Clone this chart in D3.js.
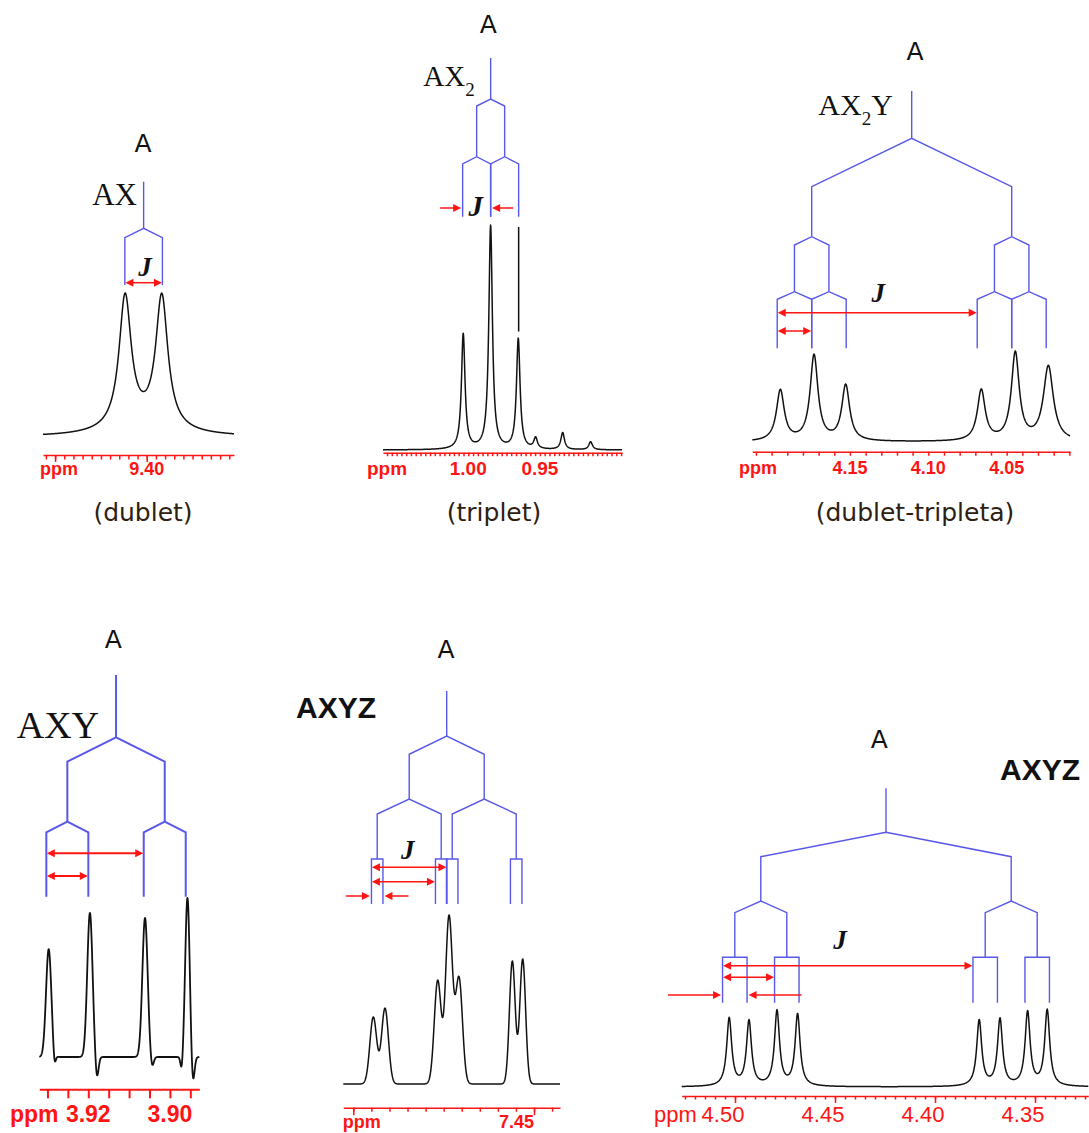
<!DOCTYPE html>
<html><head><meta charset="utf-8">
<script src="https://cdn.jsdelivr.net/npm/d3@7"></script>
<style>body{margin:0;background:#fff}svg{display:block}</style>
</head><body>
<svg id="c" width="1089" height="1133"></svg>
<script>
// ---------------- DATA ----------------
// Panel 1: doublet (AX)
const dubletPpm   = [9.4118, 9.3918, 9.4020];
const dubletInt   = [100, 100, 7];
const dubletWidth = [0.0040, 0.0040, 0.02];
const dubletCenter = 9.4017;
const dubletJ = [0.0205];
const dubletTickLabels = ["9.40"];

// Panel 2: triplet (AX2)
const tripletPpm   = [1.0035, 0.9844, 0.9651, 0.9530, 0.9341, 0.9146];
const tripletInt   = [116, 225, 111, 11, 17, 8];
const tripletWidth = [0.0015, 0.0015, 0.0015, 0.0015, 0.0015, 0.0015];
const tripletCenter = 0.98437;
const tripletJ = [0.01954, 0.01954];
const tripletTickLabels = ["1.00", "0.95"];

// Panel 3: doublet of triplets (AX2Y)
const dtPpm   = [4.1944, 4.1729, 4.1527, 4.0662, 4.0445, 4.0234];
const dtInt   = [51, 86, 56, 51, 88, 75];
const dtWidth = [0.003, 0.003, 0.003, 0.003, 0.003, 0.0038];
const dtCenter = 4.1106;
const dtJ = [0.1276, 0.022, 0.022];
const dtTickLabels = ["4.15", "4.10", "4.05"];

// Panel 4: AXY (doublet of doublets)
const axyPpm   = [3.9297, 3.9196, 3.9061, 3.8957, 3.9283, 3.9179, 3.9044, 3.8971, 3.8944];
const axyInt   = [107, 143, 138, 158, -12, -22, -11, -14, -28];
const axyWidth = [0.00065, 0.00065, 0.00065, 0.00055, 0.0003, 0.0004, 0.0004, 0.0003, 0.0004];
const axyCenter = 3.9132;
const axyJ = [0.02386, 0.01029];
const axyTickLabels = ["3.92", "3.90"];

// Panel 5: AXYZ (7.45 ppm)
const axyz1Ppm   = [7.49447, 7.49123, 7.47665, 7.47352, 7.47075, 7.45600, 7.45313];
const axyz1Int   = [68, 77, 105, 170, 107, 125, 127];
const axyz1Width = [0.00095, 0.00095, 0.00095, 0.00095, 0.00095, 0.0008, 0.0008];
const axyz1Center = 7.47416;
const axyz1J = [0.02075, 0.01771, 0.00318];
const axyz1TickLabels = ["7.45"];

// Panel 6: AXYZ (4.4 ppm)
const axyz2Ppm   = [4.5029, 4.4930, 4.4790, 4.4687, 4.3779, 4.3675, 4.3537, 4.3439];
const axyz2Int   = [68, 65, 75, 72, 66, 67, 74, 76];
const axyz2Width = [0.0015, 0.0015, 0.0015, 0.0015, 0.0015, 0.0015, 0.0015, 0.0015];
const axyz2Center = 4.4245;
const axyz2J = [0.1252, 0.026, 0.01225];
const axyz2TickLabels = ["4.50", "4.45", "4.40", "4.35"];

// ---------------- STYLE ----------------
const BLUE = "#5858e8", RED = "#ff1414", INK = "#111";
const svg = d3.select("#c");
svg.append("rect").attr("width", 1089).attr("height", 1133).attr("fill", "#fff");

function arrowHead(g, tipX, y, dir) {
  const L = 8, h = 4;
  g.append("path")
    .attr("d", `M${tipX},${y}L${tipX - dir * L},${y - h}L${tipX - dir * L},${y + h}Z`)
    .attr("fill", RED);
}

function drawPanel(cfg) {
  const g = svg.append("g");
  const x = d3.scaleLinear().domain(cfg.domain).range(cfg.range);

  // ---- spectrum ----
  const peaks = cfg.ppm.map((p, i) => ({ p, h: cfg.int[i], w: cfg.wid[i] }));
  const f = v => d3.sum(peaks, k => cfg.shape === "g"
      ? k.h * Math.exp(-((v - k.p) ** 2) / (2 * k.w * k.w))
      : k.h * k.w * k.w / ((v - k.p) ** 2 + k.w * k.w));
  const n = 900;
  const samples = d3.range(n + 1).map(i => {
    const v = cfg.domain[0] + (cfg.domain[1] - cfg.domain[0]) * i / n;
    return { ppm: v, val: f(v) };
  });
  const ymax = d3.max(samples, d => d.val);
  const y = d3.scaleLinear().domain([0, ymax]).range([cfg.base, cfg.top]);
  g.append("path")
    .attr("d", d3.line().x(d => x(d.ppm)).y(d => y(d.val))(samples))
    .attr("fill", "none").attr("stroke", INK).attr("stroke-width", cfg.specW || 1.5)
    .attr("stroke-linejoin", "round");

  // ---- axis ----
  const ax = g.append("g").attr("transform", `translate(0,${cfg.axisY})`);
  const lo = Math.min(...cfg.domain), hi = Math.max(...cfg.domain);
  const step = cfg.minorStep;
  const minorVals = d3.range(Math.ceil(lo / step - 1e-9), Math.floor(hi / step + 1e-9) + 1).map(i => i * step);
  ax.append("g").call(d3.axisBottom(x).tickValues(minorVals).tickSize(cfg.minorSize).tickSizeOuter(0).tickFormat(""));
  if (cfg.majorStep) {
    const ms = cfg.majorStep;
    const majorVals = d3.range(Math.ceil(lo / ms - 1e-9), Math.floor(hi / ms + 1e-9) + 1).map(i => i * ms);
    const mg = ax.append("g").call(d3.axisBottom(x).tickValues(majorVals).tickSize(cfg.majorSize).tickSizeOuter(0).tickFormat(""));
    mg.select(".domain").remove();
  }
  ax.selectAll(".domain").attr("stroke", RED).attr("stroke-width", cfg.axisW || 1.5);
  ax.selectAll(".tick line").attr("stroke", RED).attr("stroke-width", cfg.axisW || 1.5);
  ax.selectAll(".tick text").remove();

  const lab = g.append("g").attr("fill", RED).attr("font-family", "'Liberation Sans', Arial, sans-serif")
    .attr("font-size", cfg.labelSize).attr("font-weight", cfg.labelWeight || "bold");
  lab.append("text").attr("x", cfg.ppmX).attr("y", cfg.labelY).text("ppm");
  cfg.tickLabels.forEach(t => {
    lab.append("text").attr("x", x(+t) + (cfg.labelDx || 0)).attr("y", cfg.labelY)
      .attr("text-anchor", cfg.labelAnchor || "middle").text(t);
  });

  // ---- splitting tree ----
  const tw = cfg.treeW || 1.4;
  const tree = g.append("g").attr("fill", "none").attr("stroke", BLUE).attr("stroke-width", tw);
  tree.append("line").attr("x1", x(cfg.center)).attr("x2", x(cfg.center))
    .attr("y1", cfg.rootY).attr("y2", cfg.levels[0].y0);
  let nodes = [cfg.center];
  cfg.levels.forEach((lv, i) => {
    const J = cfg.J[i];
    const next = [];
    nodes.forEach(nd => {
      const a = nd + J / 2, b = nd - J / 2;
      if (lv.box) {
        tree.append("path").attr("d",
          `M${x(a)},${lv.y2}V${lv.y0}H${x(b)}V${lv.y2}`);
      } else {
        tree.append("path").attr("d",
          `M${x(a)},${lv.y2}V${lv.y1}L${x(nd)},${lv.y0}L${x(b)},${lv.y1}V${lv.y2}`);
      }
      next.push(a, b);
    });
    nodes = next;
  });
  const leaves = nodes.map(v => x(v));

  // ---- J arrows ----
  const ar = g.append("g");
  const aw = cfg.arrowW || 1.5;
  (cfg.doubles || []).forEach(d => {
    const xa = leaves[d.a], xb = leaves[d.b];
    ar.append("line").attr("x1", xa + 4).attr("x2", xb - 4).attr("y1", d.y).attr("y2", d.y)
      .attr("stroke", RED).attr("stroke-width", aw);
    arrowHead(ar, xa + 0.5, d.y, -1);
    arrowHead(ar, xb - 0.5, d.y, 1);
  });
  (cfg.inward || []).forEach(d => {
    const xl = leaves[d.leaf];
    const tip = xl + (d.dir > 0 ? -1.5 : 1.5);
    const tail = tip - d.dir * d.len;
    ar.append("line").attr("x1", tail).attr("x2", tip - d.dir * 4).attr("y1", d.y).attr("y2", d.y)
      .attr("stroke", RED).attr("stroke-width", aw);
    arrowHead(ar, tip, d.y, d.dir);
  });
  if (cfg.blackLine) {
    g.append("line").attr("x1", leaves[cfg.blackLine.leaf]).attr("x2", leaves[cfg.blackLine.leaf])
      .attr("y1", cfg.blackLine.y1).attr("y2", cfg.blackLine.y2).attr("stroke", INK).attr("stroke-width", 1.5);
  }

  // ---- labels ----
  if (cfg.Jlab) {
    g.append("text").attr("x", cfg.Jlab.x).attr("y", cfg.Jlab.y).attr("text-anchor", "middle")
      .attr("font-family", "'Liberation Serif', 'Times New Roman', serif").attr("font-style", "italic")
      .attr("font-weight", "bold").attr("font-size", cfg.Jlab.s || 27).attr("fill", INK).text("J");
  }
  g.append("text").attr("x", cfg.A.x).attr("y", cfg.A.y).attr("text-anchor", "middle")
    .attr("font-family", "'DejaVu Sans', Verdana, sans-serif").attr("font-size", 25).attr("fill", INK).text("A");
  if (cfg.caption) {
    g.append("text").attr("x", cfg.caption.x).attr("y", cfg.caption.y).attr("text-anchor", "middle")
      .attr("font-family", "'DejaVu Sans', Verdana, sans-serif").attr("font-size", 25).attr("fill", "#2e2010")
      .text(cfg.caption.t);
  }
  return g;
}

// ---------------- PANELS ----------------
const p1 = drawPanel({
  domain: [9.4566, 9.3524], range: [43, 234], base: 437, top: 293, shape: "l",
  ppm: dubletPpm, int: dubletInt, wid: dubletWidth,
  axisY: 455, minorStep: 0.005, minorSize: 4.5, majorStep: 0.05, majorSize: 7,
  tickLabels: dubletTickLabels, labelSize: 18, labelY: 475, ppmX: 40,
  center: dubletCenter, J: dubletJ, rootY: 181.7,
  levels: [{ y0: 228.3, y1: 237.7, y2: 285 }],
  doubles: [{ a: 0, b: 1, y: 282.7 }],
  Jlab: { x: 145, y: 276 }, A: { x: 143, y: 151.7 },
  caption: { x: 143, y: 521, t: "(dublet)" }
});
p1.append("text").attr("x", 137).attr("y", 205).attr("text-anchor", "end")
  .attr("font-family", "'Liberation Serif', 'Times New Roman', serif").attr("font-size", 31).attr("fill", INK).text("AX");

const p2 = drawPanel({
  domain: [1.0595, 0.8927], range: [383, 622], base: 450, top: 225, shape: "l",
  ppm: tripletPpm, int: tripletInt, wid: tripletWidth,
  axisY: 452.7, minorStep: 1 / 300, minorSize: 3.5,
  tickLabels: tripletTickLabels, labelSize: 19, labelY: 475, ppmX: 367,
  center: tripletCenter, J: tripletJ, rootY: 58,
  levels: [{ y0: 99, y1: 106, y2: 156.7 }, { y0: 156.7, y1: 164, y2: 216.7 }],
  inward: [{ leaf: 0, dir: 1, len: 21, y: 208 }, { leaf: 1, dir: -1, len: 21, y: 208 }],
  blackLine: { leaf: 3, y1: 227, y2: 331.5 },
  Jlab: { x: 475.7, y: 216, s: 29 }, A: { x: 488.3, y: 33.3 },
  caption: { x: 494, y: 521, t: "(triplet)" }
});
const t2 = p2.append("text").attr("x", 423.3).attr("y", 86)
  .attr("font-family", "'Liberation Serif', 'Times New Roman', serif").attr("font-size", 29).attr("fill", INK);
t2.append("tspan").text("AX");
t2.append("tspan").attr("dy", 10).attr("font-size", 19).text("2");

const p3 = drawPanel({
  domain: [4.2123, 4.0096], range: [752.3, 1070], base: 442, top: 351, shape: "l",
  ppm: dtPpm, int: dtInt, wid: dtWidth,
  axisY: 451.7, minorStep: 0.01, minorSize: 4,
  tickLabels: dtTickLabels, labelSize: 18, labelY: 473.5, ppmX: 739,
  center: dtCenter, J: dtJ, rootY: 91,
  levels: [{ y0: 138.3, y1: 186.7, y2: 236.7 }, { y0: 236.7, y1: 245, y2: 291.7 }, { y0: 291.7, y1: 299.3, y2: 348.3 }],
  doubles: [{ a: 0, b: 4, y: 312.7 }, { a: 0, b: 1, y: 331 }],
  Jlab: { x: 878.3, y: 301.7 }, A: { x: 915, y: 60 },
  caption: { x: 915, y: 521, t: "(dublet-tripleta)" }
});
const t3 = p3.append("text").attr("x", 818.3).attr("y", 115)
  .attr("font-family", "'Liberation Serif', 'Times New Roman', serif").attr("font-size", 30).attr("fill", INK);
t3.append("tspan").text("AX");
t3.append("tspan").attr("dy", 10).attr("font-size", 19).text("2");
t3.append("tspan").attr("dy", -10).text("Y");

const p4 = drawPanel({
  domain: [3.9320, 3.8928], range: [39.3, 199.3], base: 1057, top: 898, shape: "g",
  ppm: axyPpm, int: axyInt, wid: axyWidth,
  axisY: 1089.3, minorStep: 0.005, minorSize: 9, axisW: 2,
  tickLabels: axyTickLabels, labelSize: 23, labelY: 1121.7, ppmX: 10,
  center: axyCenter, J: axyJ, rootY: 675, treeW: 2, arrowW: 2, specW: 1.8,
  levels: [{ y0: 737.3, y1: 761.7, y2: 821.7 }, { y0: 821.7, y1: 832.3, y2: 896.7 }],
  doubles: [{ a: 0, b: 2, y: 853.3 }, { a: 0, b: 1, y: 876 }],
  A: { x: 113.3, y: 648.3 }
});
p4.append("text").attr("x", 16.7).attr("y", 738.3)
  .attr("font-family", "'Liberation Serif', 'Times New Roman', serif").attr("font-size", 38).attr("fill", INK).text("AXY");

const p5 = drawPanel({
  domain: [7.50277, 7.44281], range: [343.3, 560], base: 1084, top: 915, shape: "g",
  ppm: axyz1Ppm, int: axyz1Int, wid: axyz1Width,
  axisY: 1107.7, minorStep: 0.005, minorSize: 4, majorStep: 0.05, majorSize: 7.5,
  tickLabels: axyz1TickLabels, labelSize: 18, labelY: 1128, labelAnchor: "end", ppmX: 342.7,
  center: axyz1Center, J: axyz1J, rootY: 691,
  levels: [{ y0: 736, y1: 754.3, y2: 799 }, { y0: 799, y1: 814, y2: 859 }, { y0: 859, y1: 859, y2: 904, box: true }],
  doubles: [{ a: 0, b: 3, y: 867.3 }, { a: 0, b: 2, y: 881.7 }],
  inward: [{ leaf: 0, dir: 1, len: 24, y: 896 }, { leaf: 1, dir: -1, len: 24, y: 896 }],
  Jlab: { x: 407.7, y: 859.3 }, A: { x: 446, y: 658.3 }
});
p5.append("text").attr("x", 296).attr("y", 718.3)
  .attr("font-family", "'Liberation Sans', Arial, sans-serif").attr("font-weight", "bold").attr("font-size", 30).attr("fill", INK).text("AXYZ");

const p6 = drawPanel({
  domain: [4.52665, 4.32335], range: [681.7, 1088.3], base: 1087, top: 1009, shape: "l",
  ppm: axyz2Ppm, int: axyz2Int, wid: axyz2Width,
  axisY: 1096, minorStep: 0.005, minorSize: 3.5, majorStep: 0.05, majorSize: 7,
  tickLabels: axyz2TickLabels, labelSize: 22, labelWeight: "normal", labelY: 1121.7, labelDx: -12, ppmX: 654,
  center: axyz2Center, J: axyz2J, rootY: 788.3,
  levels: [{ y0: 832.3, y1: 856.7, y2: 901 }, { y0: 901, y1: 912.7, y2: 957.3 }, { y0: 957.3, y1: 957.3, y2: 1002.7, box: true }],
  doubles: [{ a: 0, b: 4, y: 965.7 }, { a: 0, b: 2, y: 977.3 }],
  inward: [{ leaf: 0, dir: 1, len: 53, y: 995 }, { leaf: 1, dir: -1, len: 53, y: 995 }],
  Jlab: { x: 840, y: 949.3 }, A: { x: 879.3, y: 748.3 }
});
p6.append("text").attr("x", 1000).attr("y", 780)
  .attr("font-family", "'Liberation Sans', Arial, sans-serif").attr("font-weight", "bold").attr("font-size", 30).attr("fill", INK).text("AXYZ");
</script>
</body></html>
